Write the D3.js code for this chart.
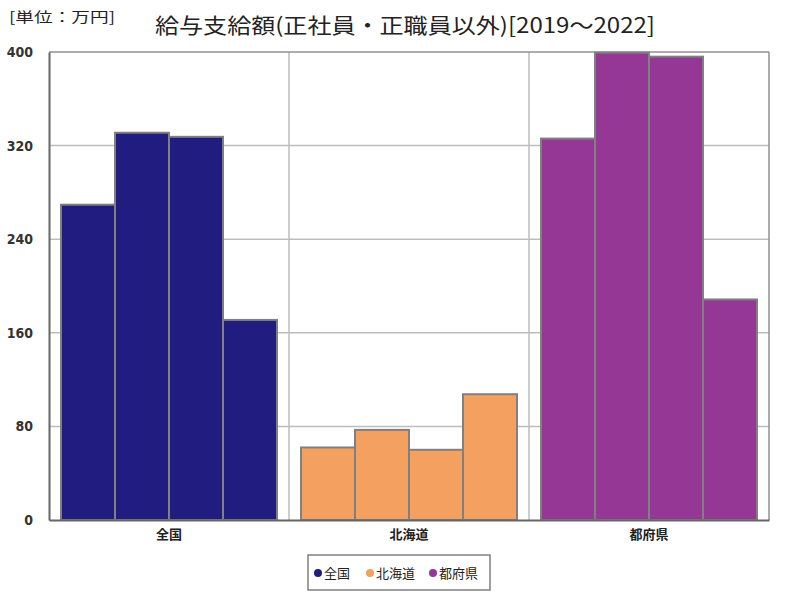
<!DOCTYPE html>
<html>
<head>
<meta charset="utf-8">
<script src="https://cdn.jsdelivr.net/npm/d3@7"></script>
<style>
  body { margin: 0; background: #fff; }
  svg { display: block; }
</style>
</head>
<body>
<div id="container"></div>
<script>
// データ
const regions = ["全国", "北海道", "都府県"];
const years = ["2019", "2020", "2021", "2022"];
const values = {
  "全国":   [269.5, 331, 327.5, 171],
  "北海道": [62, 77, 60, 107.5],
  "都府県": [326, 399.5, 396, 188.5]
};
const colors = ["#211c80", "#f4a060", "#953795"];
const yTicks = [0, 80, 160, 240, 320, 400];

const width = 800, height = 600;
const margin = { top: 52, right: 31, bottom: 80, left: 49 };
const cjk = "'Noto Sans CJK JP', sans-serif";
const num = "'Liberation Sans Narrow', 'DejaVu Sans Condensed', 'Liberation Sans', sans-serif";

const svg = d3.select("#container").append("svg")
  .attr("width", width).attr("height", height);

const x0 = d3.scaleBand().domain(regions)
  .range([margin.left, width - margin.right]).paddingInner(0).paddingOuter(0);
const x1 = d3.scaleBand().domain(years)
  .range([0, x0.bandwidth()]).paddingInner(0).paddingOuter(0.222);
const y = d3.scaleLinear().domain([0, 400])
  .range([height - margin.bottom, margin.top]);
const color = d3.scaleOrdinal(regions, colors);

// グリッド
svg.append("g").selectAll("line").data(yTicks.slice(1, -1)).join("line")
  .attr("x1", margin.left).attr("x2", width - margin.right)
  .attr("y1", d => y(d)).attr("y2", d => y(d))
  .attr("stroke", "#bdbdbd").attr("stroke-width", 1.5);
svg.append("g").selectAll("line").data(regions.slice(1)).join("line")
  .attr("x1", d => x0(d)).attr("x2", d => x0(d))
  .attr("y1", margin.top).attr("y2", height - margin.bottom)
  .attr("stroke", "#bdbdbd").attr("stroke-width", 1.5);

// 枠
svg.append("line")
  .attr("x1", margin.left).attr("x2", width - margin.right)
  .attr("y1", margin.top).attr("y2", margin.top)
  .attr("stroke", "#909090").attr("stroke-width", 1.5);
svg.append("line")
  .attr("x1", width - margin.right).attr("x2", width - margin.right)
  .attr("y1", margin.top).attr("y2", height - margin.bottom)
  .attr("stroke", "#909090").attr("stroke-width", 1.5);

// 棒
const group = svg.append("g").selectAll("g").data(regions).join("g")
  .attr("transform", d => `translate(${x0(d)},0)`);
group.selectAll("rect")
  .data(r => values[r].map((v, i) => ({ region: r, year: years[i], value: v })))
  .join("rect")
  .attr("x", d => x1(d.year))
  .attr("y", d => y(d.value))
  .attr("width", x1.bandwidth())
  .attr("height", d => y(0) - y(d.value))
  .attr("fill", d => color(d.region))
  .attr("stroke", "#808080")
  .attr("stroke-width", 2);

// 軸
const yAxis = svg.append("g")
  .attr("transform", `translate(${margin.left},0)`)
  .call(d3.axisLeft(y).tickValues(yTicks).tickSize(0).tickPadding(16));
yAxis.select(".domain").attr("stroke", "#666").attr("stroke-width", 2);
yAxis.selectAll("text")
  .attr("font-family", num).attr("font-size", 14).attr("font-weight", "bold")
  .attr("fill", "#333");

const xAxis = svg.append("g")
  .attr("transform", `translate(0,${height - margin.bottom})`)
  .call(d3.axisBottom(x0).tickSize(0).tickPadding(10));
xAxis.select(".domain").attr("stroke", "#666").attr("stroke-width", 2);
xAxis.selectAll("text")
  .attr("font-family", cjk).attr("font-size", 13).attr("font-weight", "bold")
  .attr("fill", "#222");

// タイトル
svg.append("text")
  .attr("x", 405).attr("y", 33)
  .attr("text-anchor", "middle")
  .attr("font-family", cjk).attr("font-size", 21)
  .attr("fill", "#222")
  .attr("textLength", 500).attr("lengthAdjust", "spacingAndGlyphs")
  .text("給与支給額(正社員・正職員以外)[2019～2022]");
svg.append("text")
  .attr("x", 9).attr("y", 22)
  .attr("font-family", cjk).attr("font-size", 14)
  .attr("fill", "#222")
  .attr("textLength", 106).attr("lengthAdjust", "spacingAndGlyphs")
  .text("[単位：万円]");

// 凡例
const legend = svg.append("g");
legend.append("rect")
  .attr("x", 308).attr("y", 555).attr("width", 182).attr("height", 35)
  .attr("fill", "#fff").attr("stroke", "#808080").attr("stroke-width", 1.5);
const lx = [318, 370, 433];
const item = legend.selectAll("g.item").data(regions).join("g")
  .attr("class", "item")
  .attr("transform", (d, i) => `translate(${lx[i]},573)`);
item.append("circle").attr("r", 4).attr("fill", d => color(d));
item.append("text")
  .attr("x", 6).attr("dy", "0.35em")
  .attr("font-family", cjk).attr("font-size", 13).attr("fill", "#222")
  .text(d => d);
</script>
</body>
</html>
